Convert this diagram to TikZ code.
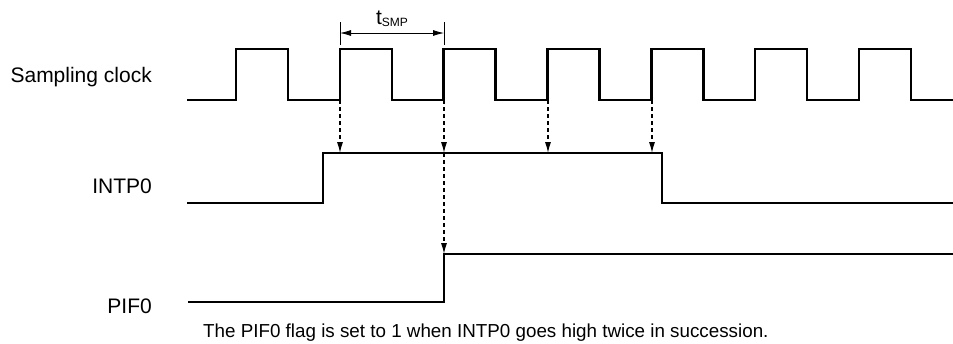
\documentclass[tikz,border=0pt]{standalone}
\usepackage{fontspec}
\setmainfont{Liberation Sans}
\usetikzlibrary{arrows.meta}

\begin{document}
\begin{tikzpicture}[
  x=1pt, y=-1pt,
  >={Latex[length=11pt,width=6pt]},
  lbl/.style={anchor=base east, inner sep=0pt, font=\fontsize{21}{24}\selectfont},
  signal/.style={line width=2.6pt, line join=miter},
  sample/.style={->, line width=1.1pt, dash pattern=on 4pt off 3pt},
]
  \useasboundingbox (0,0) rectangle (953,343);

  % signal names
  \node[lbl] (clk) at (152,82) {Sampling clock};
  \node[lbl] (intp) at (152,193) {INTP0};
  \node[lbl] (pif) at (152,313) {PIF0};

  % sampling clock
  \draw[signal] (187,100)
    \foreach \k in {0,...,6} {
      -- ({236+103.8*\k},100) -- ({236+103.8*\k},49)
      -- ({288+103.8*\k},49) -- ({288+103.8*\k},100)
    } -- (953,100);

  % INTP0 and PIF0
  \draw[signal] (187,203) -- (323,203) -- (323,153) -- (662,153)
    -- (662,203) -- (953,203);
  \draw[signal] (188,302) -- (444,302) -- (444,254) -- (953,254);

  % sampling period
  \coordinate (tA) at (340,33);
  \coordinate (tB) at (444,33);
  \draw[line width=0.8pt] (340,22) -- (340,45) (444,22) -- (444,45);
  \draw[<->, line width=0.8pt] (tA) -- (tB)
    node[midway, above=3pt, font=\fontsize{21}{24}\selectfont] (tsmp)
    {t\raisebox{-2pt}{\fontsize{12}{12}\selectfont SMP}};

  % sampling points
  \foreach \n/\x in {1/340,2/444,3/548,4/652} {
    \coordinate (s\n) at (\x,100);
    \coordinate (h\n) at (\x,153);
    \draw[sample] (s\n) -- (h\n);
  }
  \coordinate (p2) at (444,254);
  \draw[sample] (h2) -- (p2);

  \node[anchor=base west, inner sep=0pt, font=\fontsize{18.8}{22}\selectfont]
    (note) at (203,337)
    {The PIF0 flag is set to 1 when INTP0 goes high twice in succession.};
\end{tikzpicture}
\end{document}
